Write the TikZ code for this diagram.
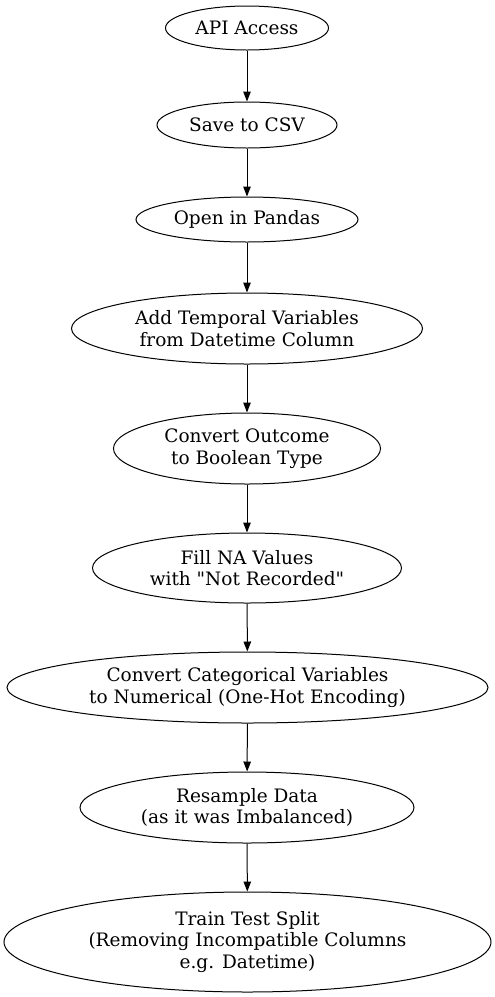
\documentclass[tikz,border=0pt]{standalone}
\usepackage{fontspec}
\setmainfont{DejaVu Serif}
\usetikzlibrary{shapes.geometric,arrows.meta}

\begin{document}
\begin{tikzpicture}[x=1pt,y=-1pt,
    stage/.style={draw, ellipse, line width=1pt, inner sep=0pt, align=center,
      font=\fontsize{18.5}{21.5}\selectfont},
    flow/.style={-{Triangle[length=10pt,width=7.5pt]}, line width=1pt}]
    \useasboundingbox (0,0) rectangle (495,997);
    \node[stage, minimum width=163pt, minimum height=44pt] (a) at (247, 28) {API Access};
    \node[stage, minimum width=180pt, minimum height=46pt] (b) at (247, 125) {Save to CSV};
    \node[stage, minimum width=222pt, minimum height=45pt] (c) at (247, 219.5) {Open in Pandas};
    \node[stage, minimum width=351pt, minimum height=71pt] (d) at (247, 328.5) {Add Temporal Variables\\from Datetime Column};
    \node[stage, minimum width=267pt, minimum height=71pt] (e) at (247, 448.5) {Convert Outcome\\to Boolean Type};
    \node[stage, minimum width=309pt, minimum height=70pt] (f) at (247, 568) {Fill NA Values\\with \textquotedbl Not Recorded\textquotedbl};
    \node[stage, minimum width=481pt, minimum height=71pt] (g) at (247.5, 687.5) {Convert Categorical Variables\\to Numerical (One-Hot Encoding)};
    \node[stage, minimum width=334pt, minimum height=71pt] (h) at (247, 807.5) {Resample Data\\(as it was Imbalanced)};
    \node[stage, minimum width=487pt, minimum height=100pt] (i) at (247.5, 942) {Train Test Split\\(Removing Incompatible Columns\\e.g. Datetime)};
    \draw [flow] (a) to (b);
    \draw [flow] (b) to (c);
    \draw [flow] (c) to (d);
    \draw [flow] (d) to (e);
    \draw [flow] (e) to (f);
    \draw [flow] (f) to (g);
    \draw [flow] (g) to (h);
    \draw [flow] (h) to (i);
\end{tikzpicture}
\end{document}
